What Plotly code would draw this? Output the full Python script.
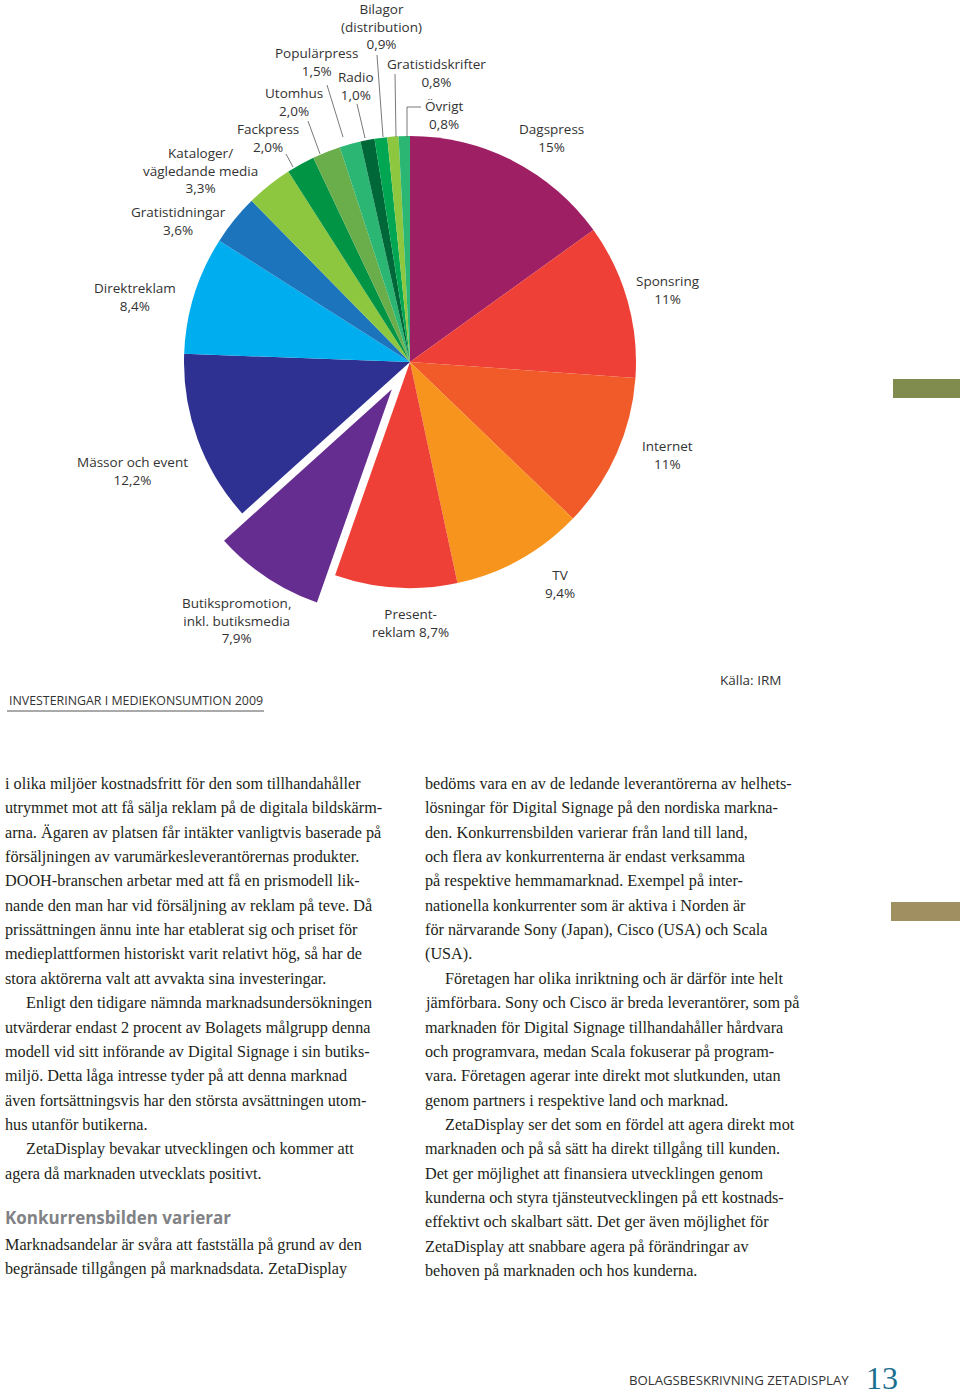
import plotly.graph_objects as go

W, H = 960, 1399

# ---------------- data ----------------
categories = ["Dagspress", "Sponsring", "Internet", "TV", "Presentreklam",
              "Butikspromotion, inkl. butiksmedia", "Mässor och event", "Direktreklam",
              "Gratistidningar", "Kataloger/vägledande media", "Fackpress", "Utomhus",
              "Populärpress", "Radio", "Bilagor (distribution)", "Gratistidskrifter", "Övrigt"]
values = [15, 11, 11, 9.4, 8.7, 7.9, 12.2, 8.4, 3.6, 3.3, 2.0, 2.0, 1.5, 1.0, 0.9, 0.8, 0.8]
colors = ["#9E1F63", "#EE4036", "#F15A29", "#F7941D", "#EE4036", "#662D91", "#2E3192",
          "#00AEEF", "#1C75BC", "#8DC63F", "#009444", "#69AE4A", "#2BB673", "#006838",
          "#00A651", "#8DC63F", "#2BB673"]
pulls = [0, 0, 0, 0, 0, 0.145, 0, 0, 0, 0, 0, 0, 0, 0, 0, 0, 0]

label_texts = ["Dagspress<br>15%", "Sponsring<br>11%", "Internet<br>11%", "TV<br>9,4%",
               "Present-<br>reklam 8,7%", "Butikspromotion,<br>inkl. butiksmedia<br>7,9%",
               "Mässor och event<br>12,2%", "Direktreklam<br>8,4%", "Gratistidningar<br>3,6%",
               "Kataloger/<br>vägledande media<br>3,3%", "Fackpress<br>2,0%", "Utomhus<br>2,0%",
               "Populärpress<br>1,5%", "Radio<br>1,0%", "Bilagor<br>(distribution)<br>0,9%",
               "Gratistidskrifter<br>0,8%", "Övrigt<br>0,8%"]

left_col = [
    ("i olika miljöer kostnadsfritt för den som tillhandahåller", 0),
    ("utrymmet mot att få sälja reklam på de digitala bildskärm-", 0),
    ("arna. Ägaren av platsen får intäkter vanligtvis baserade på", 0),
    ("försäljningen av varumärkesleverantörernas produkter.", 0),
    ("DOOH-branschen arbetar med att få en prismodell lik-", 0),
    ("nande den man har vid försäljning av reklam på teve. Då", 0),
    ("prissättningen ännu inte har etablerat sig och priset för", 0),
    ("medieplattformen historiskt varit relativt hög, så har de", 0),
    ("stora aktörerna valt att avvakta sina investeringar.", 0),
    ("Enligt den tidigare nämnda marknadsundersökningen", 1),
    ("utvärderar endast 2 procent av Bolagets målgrupp denna", 0),
    ("modell vid sitt införande av Digital Signage i sin butiks-", 0),
    ("miljö. Detta låga intresse tyder på att denna marknad", 0),
    ("även fortsättningsvis har den största avsättningen utom-", 0),
    ("hus utanför butikerna.", 0),
    ("ZetaDisplay bevakar utvecklingen och kommer att", 1),
    ("agera då marknaden utvecklats positivt.", 0),
]
left_col2 = [
    "Marknadsandelar är svåra att fastställa på grund av den",
    "begränsade tillgången på marknadsdata. ZetaDisplay",
]
right_col = [
    ("bedöms vara en av de ledande leverantörerna av helhets-", 0),
    ("lösningar för Digital Signage på den nordiska markna-", 0),
    ("den. Konkurrensbilden varierar från land till land,", 0),
    ("och flera av konkurrenterna är endast verksamma", 0),
    ("på respektive hemmamarknad. Exempel på inter-", 0),
    ("nationella konkurrenter som är aktiva i Norden är", 0),
    ("för närvarande Sony (Japan), Cisco (USA) och Scala", 0),
    ("(USA).", 0),
    ("Företagen har olika inriktning och är därför inte helt", 1),
    ("jämförbara. Sony och Cisco är breda leverantörer, som på", 0),
    ("marknaden för Digital Signage tillhandahåller hårdvara", 0),
    ("och programvara, medan Scala fokuserar på program-", 0),
    ("vara. Företagen agerar inte direkt mot slutkunden, utan", 0),
    ("genom partners i respektive land och marknad.", 0),
    ("ZetaDisplay ser det som en fördel att agera direkt mot", 1),
    ("marknaden och på så sätt ha direkt tillgång till kunden.", 0),
    ("Det ger möjlighet att finansiera utvecklingen genom", 0),
    ("kunderna och styra tjänsteutvecklingen på ett kostnads-", 0),
    ("effektivt och skalbart sätt. Det ger även möjlighet för", 0),
    ("ZetaDisplay att snabbare agera på förändringar av", 0),
    ("behoven på marknaden och hos kunderna.", 0),
]

# ---------------- layout helpers ----------------
def px(x):
    return x / W

def py(y):
    return 1 - y / H

# pie geometry (pixels)
cx, cy, r = 410, 362, 226
half = r * (1 + max(pulls))

fig = go.Figure()
fig.add_trace(go.Pie(
    labels=categories, values=values, sort=False, direction="clockwise", rotation=0,
    marker=dict(colors=colors, line=dict(width=0)), pull=pulls,
    textinfo="none", hoverinfo="label+percent", showlegend=False,
    domain=dict(x=[px(cx - half), px(cx + half)], y=[py(cy + half), py(cy - half)]),
))

LABEL_FONT = dict(family="Open Sans, Lato, sans-serif", size=13.5, color="#333333")
# label anchor (center x, center y) in pixels, one per category
label_pos = [(551, 138), (668, 290), (667, 455), (560, 584), (410, 623), (236, 621),
             (132, 471), (135, 297), (178, 221), (200, 170), (268, 138), (294, 102),
             (316, 62), (356, 86), (381, 26), (436, 73), (444, 115)]

annotations = []
for t, (lx, ly) in zip(label_texts, label_pos):
    annotations.append(dict(x=px(lx), y=py(ly), xref="paper", yref="paper", text=t,
                            showarrow=False, font=LABEL_FONT, align="center",
                            xanchor="center", yanchor="middle", borderpad=0))

# leader lines (pixel coordinates)
leaders = [
    [(327, 85), (343, 137)],          # Populärpress
    [(357, 104), (365, 138)],         # Radio
    [(377, 55), (383, 137)],          # Bilagor
    [(395, 74), (396, 137)],          # Gratistidskrifter
    [(421, 107), (407, 107), (407, 137)],  # Övrigt
    [(308, 121), (320, 154)],         # Utomhus
    [(286, 154), (293, 167)],         # Fackpress
]
shapes = []
for pts in leaders:
    path = "M " + " L ".join(f"{px(a)},{py(b)}" for a, b in pts)
    shapes.append(dict(type="path", xref="paper", yref="paper", path=path,
                       line=dict(color="#555555", width=0.8)))

# title + underline
annotations.append(dict(x=px(7), y=py(701), xref="paper", yref="paper",
                        text="INVESTERINGAR I MEDIEKONSUMTION 2009", showarrow=False,
                        font=dict(family="Open Sans, sans-serif", size=12.4, color="#333333"),
                        xanchor="left", yanchor="middle"))
shapes.append(dict(type="line", xref="paper", yref="paper", x0=px(7), x1=px(264),
                   y0=py(711), y1=py(711), line=dict(color="#555555", width=1)))
annotations.append(dict(x=px(718), y=py(680), xref="paper", yref="paper", text="Källa: IRM",
                        showarrow=False, font=LABEL_FONT, xanchor="left", yanchor="middle"))

# side tabs
shapes.append(dict(type="rect", xref="paper", yref="paper", x0=px(893), x1=px(960),
                   y0=py(398), y1=py(379), fillcolor="#7F8C4D", line=dict(width=0)))
shapes.append(dict(type="rect", xref="paper", yref="paper", x0=px(891), x1=px(960),
                   y0=py(921), y1=py(902), fillcolor="#A08F60", line=dict(width=0)))

BODY_FONT = dict(family="Liberation Serif, serif", size=16.2, color="#231F20")
LS = 24.35
for i, (t, ind) in enumerate(left_col):
    annotations.append(dict(x=px(3 + 21 * ind), y=py(784 + i * LS), xref="paper", yref="paper",
                            text=t, showarrow=False, font=BODY_FONT,
                            xanchor="left", yanchor="middle"))
annotations.append(dict(x=px(3), y=py(1217), xref="paper", yref="paper",
                        text="<b>Konkurrensbilden varierar</b>", showarrow=False,
                        font=dict(family="Open Sans, sans-serif", size=17, color="#808285"),
                        xanchor="left", yanchor="middle"))
for i, t in enumerate(left_col2):
    annotations.append(dict(x=px(3), y=py(1245 + i * LS), xref="paper", yref="paper",
                            text=t, showarrow=False, font=BODY_FONT,
                            xanchor="left", yanchor="middle"))
for i, (t, ind) in enumerate(right_col):
    annotations.append(dict(x=px(423 + 20 * ind), y=py(784 + i * LS), xref="paper", yref="paper",
                            text=t, showarrow=False, font=BODY_FONT,
                            xanchor="left", yanchor="middle"))

# footer
annotations.append(dict(x=px(627), y=py(1380), xref="paper", yref="paper",
                        text="BOLAGSBESKRIVNING ZETADISPLAY", showarrow=False,
                        font=dict(family="Open Sans, sans-serif", size=13.2, color="#333333"),
                        xanchor="left", yanchor="middle"))
annotations.append(dict(x=px(864), y=py(1378), xref="paper", yref="paper",
                        text="13", showarrow=False,
                        font=dict(family="Liberation Serif, serif", size=32, color="#1B6E8E"),
                        xanchor="left", yanchor="middle"))

fig.update_layout(width=W, height=H, margin=dict(l=0, r=0, t=0, b=0),
                  paper_bgcolor="white", plot_bgcolor="white",
                  annotations=annotations, shapes=shapes, showlegend=False)

fig.write_html("out.html")
